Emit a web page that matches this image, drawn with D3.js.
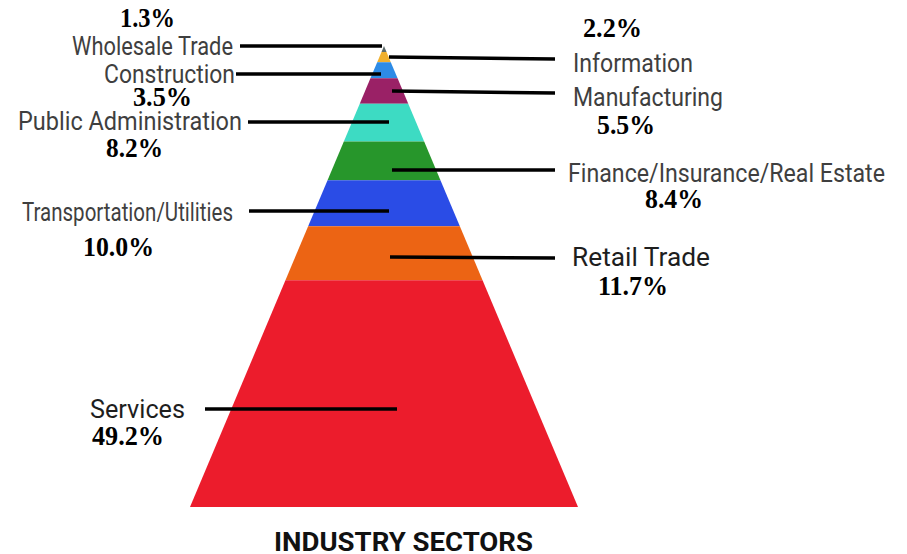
<!DOCTYPE html>
<html>
<head>
<meta charset="utf-8">
<script src="https://cdn.jsdelivr.net/npm/d3@7"></script>
<style>
  body { margin: 0; background: #fff; }
  svg { display: block; }
</style>
</head>
<body>
<svg id="svg"></svg>
<script>
// secteurs du haut vers le bas de la pyramide
var sectors = ["Wholesale Trade", "Information", "Construction", "Manufacturing",
  "Public Administration", "Finance/Insurance/Real Estate", "Transportation/Utilities",
  "Retail Trade", "Services"]
var values = [1.3, 2.2, 3.5, 5.5, 8.2, 8.4, 10.0, 11.7, 49.2]
var colors = ["#5d6b6b", "#f0b02e", "#2d8be6", "#9a2166", "#3ddbc3", "#27962b",
  "#2a4ce6", "#ec6414", "#ec1c2c"]

// placement des étiquettes : côté, nom (x0, x1, ligne de base), % (x0, x1, base), trait (xOut, xIn, yOut, yIn)
var layout = [
  {side: "L", nx: [72, 233], ny: 55, px: [120, 175], py: 27, line: [240, 382, 46, 46]},
  {side: "R", nx: [573, 693], ny: 72, px: [583, 642], py: 37, line: [555, 389, 59, 57]},
  {side: "L", nx: [104, 235], ny: 83, px: [133, 192], py: 106, line: [236, 381, 74, 74]},
  {side: "R", nx: [573, 723], ny: 106, px: [597, 655], py: 134, line: [555, 392, 93, 91]},
  {side: "L", nx: [18, 242], ny: 130, px: [106, 163], py: 157, line: [248, 389, 122, 122]},
  {side: "R", nx: [568, 885], ny: 182, px: [645, 703], py: 208, line: [555, 392, 170, 170]},
  {side: "L", nx: [22, 233], ny: 221, px: [83, 154], py: 256, line: [249, 389, 211, 211]},
  {side: "R", nx: [572, 710], ny: 266, px: [598, 668], py: 295, line: [555, 390, 258, 257]},
  {side: "L", nx: [90, 185], ny: 418, px: [92, 164], py: 445, line: [205, 397, 409, 409]}
]

var width = 907, height = 554
var cx = 384

var canevas = d3.select("#svg").attr("width", width).attr("height", height)

// hauteur proportionnelle au pourcentage cumulé
var y = d3.scaleLinear().domain([0, 100]).range([46, 507])
var halfW = d3.scaleLinear().domain([0, 100]).range([0, 194])

var cum = 0
var bands = values.map(function(v, i) {
  var b = {name: sectors[i], value: v, c0: cum, c1: cum + v, color: colors[i], lay: layout[i]}
  cum += v
  return b
})

canevas.selectAll("polygon.band")
  .data(bands)
  .enter()
  .append("polygon")
  .attr("class", "band")
  .attr("fill", function(d){ return d.color })
  .attr("points", function(d){
    return [
      [cx - halfW(d.c0), y(d.c0)],
      [cx + halfW(d.c0), y(d.c0)],
      [cx + halfW(d.c1), y(d.c1)],
      [cx - halfW(d.c1), y(d.c1)]
    ].join(" ")
  })

// traits de rappel
canevas.selectAll("line.leader")
  .data(bands)
  .enter()
  .append("line")
  .attr("class", "leader")
  .attr("x1", function(d){ return d.lay.line[0] })
  .attr("x2", function(d){ return d.lay.line[1] })
  .attr("y1", function(d){ return d.lay.line[2] })
  .attr("y2", function(d){ return d.lay.line[3] })
  .attr("stroke", "#000")
  .attr("stroke-width", 3.5)

// noms des secteurs
canevas.selectAll("text.name")
  .data(bands)
  .enter()
  .append("text")
  .attr("class", "name")
  .attr("x", function(d){ return d.lay.nx[0] })
  .attr("y", function(d){ return d.lay.ny })
  .attr("textLength", function(d){ return d.lay.nx[1] - d.lay.nx[0] })
  .attr("lengthAdjust", "spacingAndGlyphs")
  .attr("fill", function(d){ return (d.name == "Services" || d.name == "Retail Trade") ? "#1e1e1e" : "#3f3f3f" })
  .style("font-family", "Roboto, 'Noto Sans', sans-serif")
  .style("font-size", "26px")
  .text(function(d){ return d.name })

// pourcentages
canevas.selectAll("text.pct")
  .data(bands)
  .enter()
  .append("text")
  .attr("class", "pct")
  .attr("x", function(d){ return d.lay.px[0] })
  .attr("y", function(d){ return d.lay.py })
  .attr("textLength", function(d){ return d.lay.px[1] - d.lay.px[0] })
  .attr("lengthAdjust", "spacingAndGlyphs")
  .attr("fill", "#000")
  .style("font-family", "'Liberation Serif', 'Times New Roman', serif")
  .style("font-weight", "bold")
  .style("font-size", "27px")
  .text(function(d){ return d.value.toFixed(1) + "%" })

// titre en bas
canevas.append("text")
  .attr("x", 274)
  .attr("y", 551)
  .attr("textLength", 259)
  .attr("lengthAdjust", "spacingAndGlyphs")
  .attr("fill", "#111")
  .style("font-family", "Roboto, 'Noto Sans', sans-serif")
  .style("font-weight", "bold")
  .style("font-size", "25px")
  .text("INDUSTRY SECTORS")
</script>
</body>
</html>
